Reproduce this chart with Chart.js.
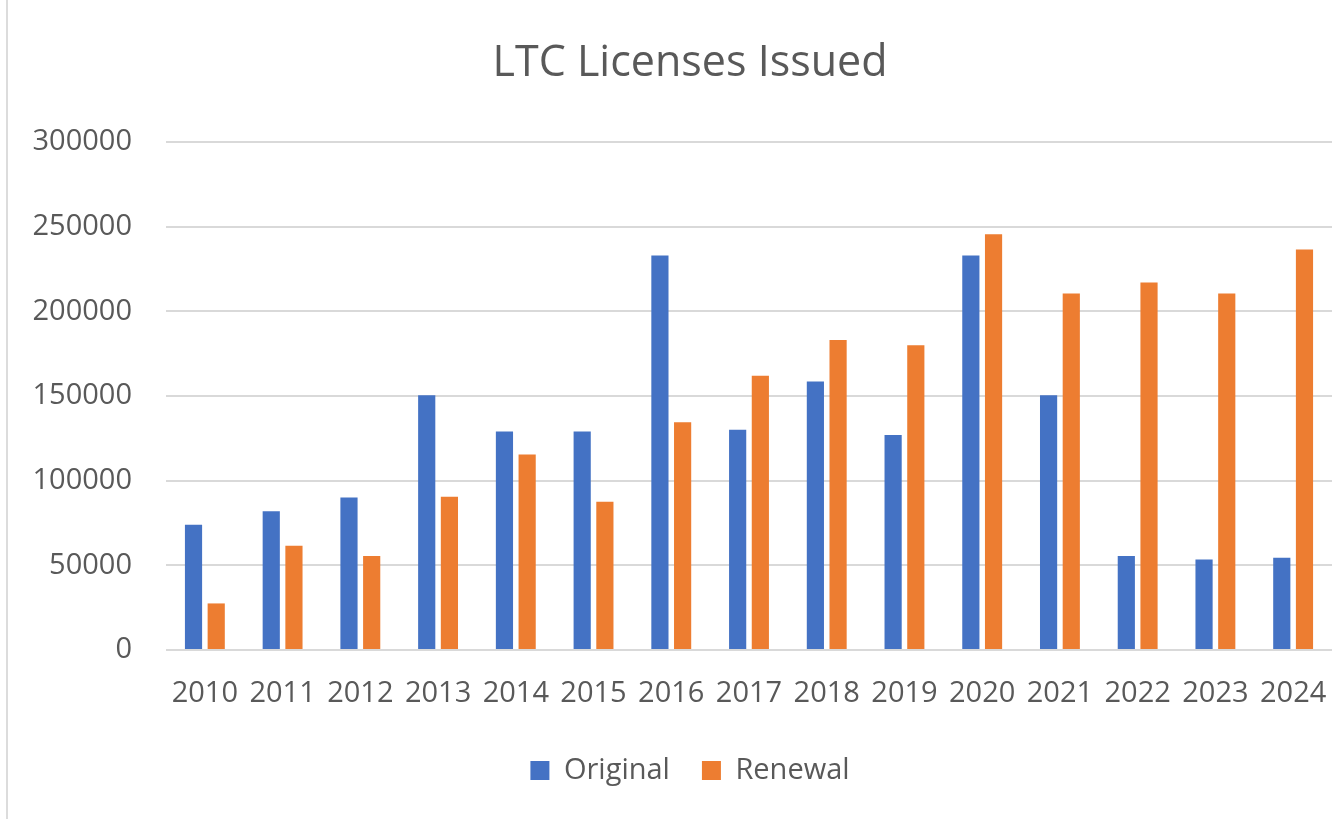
<!DOCTYPE html>
<html>
<head>
<meta charset="utf-8">
<script src="https://cdn.jsdelivr.net/npm/chart.js@4/dist/chart.umd.min.js"></script>
<style>
  html, body { margin: 0; padding: 0; background: #ffffff; overflow: hidden; width: 1341px; height: 819px; }
  #wrap { position: absolute; left: 0; top: 0; width: 1380px; height: 819px; }
  #edge { position: absolute; left: 6px; top: 0; width: 2px; height: 819px; background: #dcdcdc; }
</style>
</head>
<body>
<div id="wrap"><canvas id="c" width="1380" height="819"></canvas></div>
<div id="edge"></div>
<script>
const titleText = "LTC Licenses Issued";
const years = ["2010","2011","2012","2013","2014","2015","2016","2017","2018","2019","2020","2021","2022","2023","2024"];
const originalValues = [74000, 82000, 90000, 150500, 129000, 129000, 233000, 130000, 158500, 127000, 233000, 150500, 55500, 53500, 54500];
const renewalValues  = [27500, 61500, 55500, 90500, 115500, 87500, 134500, 162000, 183000, 180000, 245500, 210500, 217000, 210500, 236500];
const seriesNames = ["Original", "Renewal"];
const yMin = 0, yMax = 300000, yStep = 50000;

const FONT = "'Open Sans', 'Noto Sans', sans-serif";
const TEXT = "#595959";

new Chart(document.getElementById('c'), {
  type: 'bar',
  data: {
    labels: years,
    datasets: [
      { label: seriesNames[0], data: originalValues, backgroundColor: '#4472C4', categoryPercentage: 0.584, barPercentage: 0.757 },
      { label: seriesNames[1], data: renewalValues, backgroundColor: '#ED7D31', categoryPercentage: 0.584, barPercentage: 0.757 }
    ]
  },
  options: {
    responsive: false,
    animation: false,
    layout: { padding: { left: 0, right: 0, top: 0, bottom: 24 } },
    plugins: {
      tooltip: { enabled: false },
      title: {
        display: true,
        text: titleText,
        color: TEXT,
        font: { family: FONT, size: 43, weight: 'normal' },
        padding: { top: 37.7, bottom: 52.7 }
      },
      legend: {
        position: 'bottom',
        labels: {
          color: TEXT,
          font: { family: FONT, size: 29 },
          boxWidth: 19,
          boxHeight: 19,
          padding: 32
        }
      }
    },
    scales: {
      x: {
        grid: { display: false, drawTicks: false },
        border: { display: false },
        ticks: { color: TEXT, font: { family: FONT, size: 29 }, padding: 26, maxRotation: 0, autoSkip: false },
        afterFit: (s) => { s.height = 74; s.paddingRight = 48; }
      },
      y: {
        min: yMin, max: yMax,
        grid: { color: '#d9d9d9', lineWidth: 2, drawTicks: false },
        border: { display: false },
        ticks: { stepSize: yStep, color: TEXT, font: { family: FONT, size: 29 }, padding: 34,
                 callback: (v) => String(v) },
        afterFit: (s) => { s.width = 166; }
      }
    }
  }
});
</script>
</body>
</html>
